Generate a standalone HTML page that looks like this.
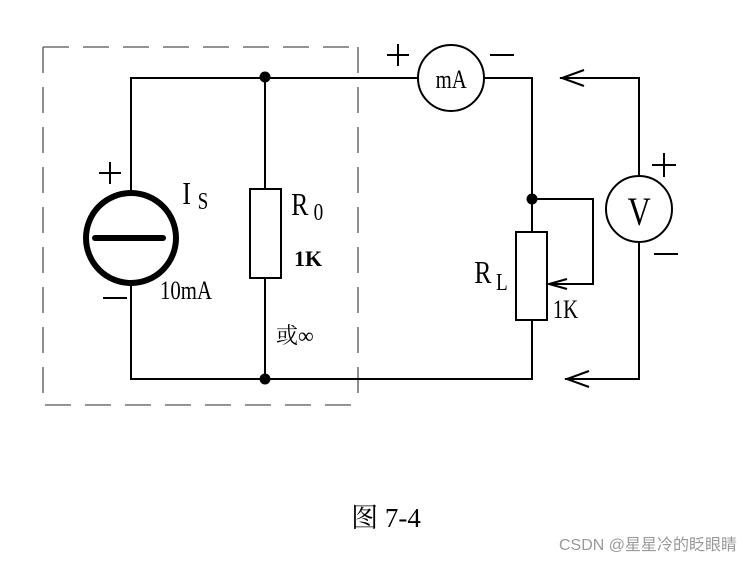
<!DOCTYPE html>
<html><head><meta charset="utf-8"><style>
body{margin:0;background:#fff;width:753px;height:562px;overflow:hidden}
text{font-family:"Liberation Serif","Noto Serif CJK SC",serif;fill:#000}
</style></head><body>
<svg width="753" height="562" viewBox="0 0 753 562" xmlns="http://www.w3.org/2000/svg">
<g stroke="#555" stroke-width="1.3" fill="none" stroke-dasharray="26,14">
<path d="M43 47 H358 M43 47 V405 H358 M358 47 V405"/>
</g>
<g stroke="#000" stroke-width="2" fill="none">
<path d="M131 192 V78 H418 M484 78 H532 V232 M532 320 V379 H131 V284"/>
<path d="M265 78 V189 M265 278 V379"/>
<rect x="250" y="189" width="31" height="89"/>
<circle cx="451" cy="78" r="33"/>
<rect x="516" y="232" width="31" height="88"/>
<path d="M532 199 H593 V284 H549"/>
<path d="M567 279 L549 284 L567 289"/>
<path d="M560 78 H639 V176 M639 242 V379 H565"/>
<circle cx="639" cy="209" r="33"/>
<path d="M584 70 L562 78 L584 86 M589 371 L567 379 L589 387"/>
</g>
<circle cx="131" cy="238" r="45" fill="none" stroke="#000" stroke-width="6"/>
<path d="M95 238 H163" stroke="#000" stroke-width="6" stroke-linecap="round"/>
<circle cx="265" cy="77" r="5.5"/><circle cx="265" cy="379" r="5.5"/><circle cx="532" cy="199" r="5.5"/>
<g stroke="#000" stroke-width="2">
<path d="M99 173 H121 M110 162 V184 M103 298 H127"/>
<path d="M387 55 H409 M398 44 V66 M490 55 H514"/>
<path d="M652 165 H676 M664 153 V177 M654 254 H678"/>
</g>
<g transform="scale(0.8,1)">
<text x="228" y="204" font-size="32">I</text><text x="247" y="209" font-size="24">S</text>
<text x="364" y="215" font-size="32">R</text><text x="392" y="220" font-size="24">0</text>
<text x="200" y="299" font-size="26">10mA</text>
<text x="564" y="88" font-size="26" text-anchor="middle">mA</text>
<text x="799" y="225" font-size="40" text-anchor="middle">V</text>
<text x="593" y="283" font-size="32">R</text><text x="620" y="290" font-size="24">L</text>
<text x="691" y="318" font-size="26">1K</text>
</g>
<text x="294" y="266" font-size="22" font-weight="bold">1K</text>
<text x="276" y="343" font-size="22" fill="#333">或∞</text>
<text x="386" y="527" font-size="27" text-anchor="middle">图 7-4</text>
<text x="737" y="550" font-size="16" text-anchor="end" style="font-family:'Liberation Sans','Noto Sans CJK SC',sans-serif;fill:#999">CSDN @星星冷的眨眼睛</text>
</svg>
</body></html>
